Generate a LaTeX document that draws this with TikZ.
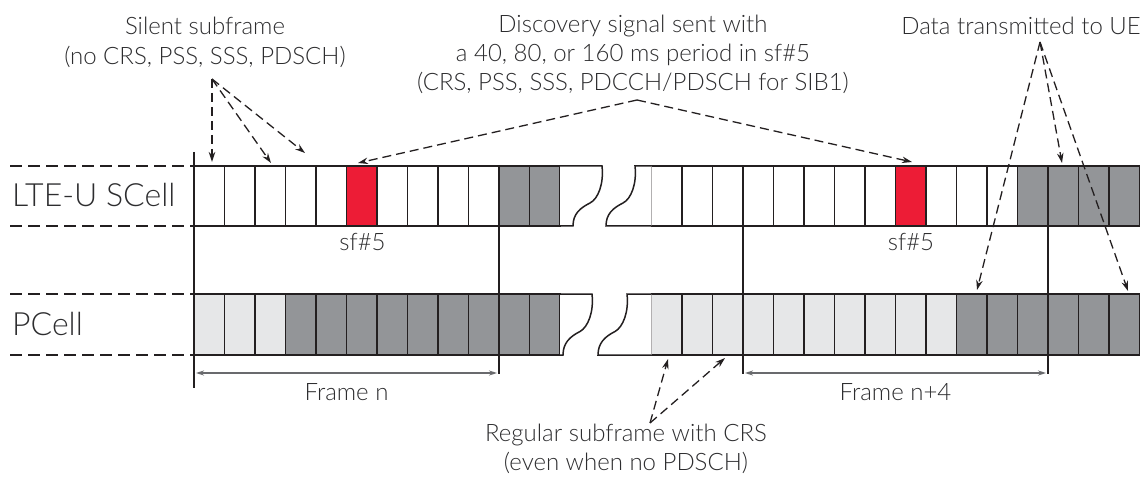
\documentclass[tikz,border=0pt]{standalone}
\usepackage{fontspec}
\setmainfont{Lato}[UprightFont={* Light}]
\usetikzlibrary{arrows.meta}

\definecolor{edge}{RGB}{35,31,32}
\definecolor{txt}{RGB}{45,45,47}
\definecolor{sigred}{RGB}{237,28,54}
\definecolor{busy}{RGB}{147,149,152}
\definecolor{idle}{RGB}{230,231,232}
\definecolor{spanline}{RGB}{105,106,109}

\begin{document}
\begin{tikzpicture}[x=1pt,y=-1pt,
  scellbox/.style={draw=edge, line width=1.5pt, minimum width=30.5pt, minimum height=60pt,
    inner sep=0pt, outer sep=0pt, anchor=north west},
  pcellbox/.style={scellbox, minimum height=61pt},
  edgeline/.style={draw=edge, line width=1.5pt},
  guide/.style={draw=edge, line width=1.3pt, dash pattern=on 12pt off 6pt},
  callout/.style={draw=edge, line width=1.3pt, dash pattern=on 9pt off 5pt,
    -{Stealth[length=10pt,width=6.5pt]}},
  span/.style={draw=spanline, line width=1.2pt,
    {Stealth[length=8pt,width=5pt]}-{Stealth[length=8pt,width=5pt]}},
  lab/.style={font=\fontsize{24}{29}\selectfont, text=txt, inner sep=0pt, anchor=base},
  rowlab/.style={font=\fontsize{32}{38}\selectfont, text=txt, inner sep=0pt, anchor=base west}]

\useasboundingbox (0,0) rectangle (1147,478);

% ---------- LTE-U SCell row ----------
\foreach \c [count=\i from 0] in {white,white,white,white,white,sigred,white,white,white,white,busy,busy}
  \node[scellbox, fill=\c] (sa\i) at ({194+30.5*\i},166) {};
\foreach \c [count=\j from 0] in {white,white,white,white,white,white,white,white,sigred,white,white,white,busy,busy,busy,busy}
  \node[scellbox, fill=\c] (sb\j) at ({651.5+30.5*\j},166) {};

% torn ends of the SCell row
\begin{scope}[shift={(602,166)}]
  \fill[white] (-42,0) -- (0,0) .. controls (2,18) and (-4,33) .. (-12,37)
    .. controls (-22,42) and (-29,48) .. (-29,60) -- (-42,60) -- cycle;
  \draw[edgeline] (-42,0) -- (0,0) .. controls (2,18) and (-4,33) .. (-12,37)
    .. controls (-22,42) and (-29,48) .. (-29,60) -- (-42,60);
\end{scope}
\begin{scope}[shift={(635,166)}]
  \fill[white] (16.5,0) -- (0,0) .. controls (2,18) and (-4,33) .. (-12,37)
    .. controls (-22,42) and (-29,48) .. (-29,60) -- (16.5,60) -- cycle;
  \draw[edgeline] (16.5,0) -- (0,0) .. controls (2,18) and (-4,33) .. (-12,37)
    .. controls (-22,42) and (-29,48) .. (-29,60) -- (16.5,60);
\end{scope}

% ---------- PCell row ----------
\foreach \c [count=\i from 0] in {idle,idle,idle,busy,busy,busy,busy,busy,busy,busy,busy,busy}
  \node[pcellbox, fill=\c] (pa\i) at ({194+30.5*\i},294) {};
\foreach \c [count=\j from 0] in {idle,idle,idle,idle,idle,idle,idle,idle,idle,idle,busy,busy,busy,busy,busy,busy}
  \node[pcellbox, fill=\c] (pb\j) at ({651.5+30.5*\j},294) {};

% torn ends of the PCell row
\begin{scope}[shift={(592,294)}]
  \fill[white] (-32,0) -- (0,0) .. controls (2,18) and (-4,33) .. (-12,37.5)
    .. controls (-22,42.5) and (-29,49) .. (-29,61) -- (-32,61) -- cycle;
  \draw[edgeline] (-32,0) -- (0,0) .. controls (2,18) and (-4,33) .. (-12,37.5)
    .. controls (-22,42.5) and (-29,49) .. (-29,61) -- (-32,61);
\end{scope}
\begin{scope}[shift={(627,294)}]
  \fill[white] (24.5,0) -- (0,0) .. controls (2,18) and (-4,33) .. (-12,37.5)
    .. controls (-22,42.5) and (-29,49) .. (-29,61) -- (24.5,61) -- cycle;
  \draw[edgeline] (24.5,0) -- (0,0) .. controls (2,18) and (-4,33) .. (-12,37.5)
    .. controls (-22,42.5) and (-29,49) .. (-29,61) -- (24.5,61);
\end{scope}

% ---------- row labels and guide lines ----------
\node[rowlab] (scell) at (12,207) {LTE-U SCell};
\node[rowlab] (pcell) at (12,335) {PCell};
\draw[guide] (10,166) -- (sa0.north west);
\draw[guide] (10,226) -- (sa0.south west);
\draw[guide] (10,294) -- (pa0.north west);
\draw[guide] (10,355) -- (pa0.south west);

% ---------- frame boundaries ----------
\draw[edgeline] (sa0.north west) ++(0,-14) -- (194,388);
\coordinate (fnEnd) at (499,374);
\coordinate (fmEnd) at (743,374);
\coordinate (fmEndB) at (1048,374);
\draw[edgeline] (sa10.south west) -- (fnEnd);
\draw[edgeline] (sb3.south west) -- (fmEnd);
\draw[edgeline] (sb13.south west) -- (fmEndB);

\coordinate (fnA) at (196,373);
\coordinate (fnB) at (497,373);
\coordinate (fmA) at (745,373);
\coordinate (fmB) at (1046,373);
\draw[span] (fnA) -- (fnB);
\draw[span] (fmA) -- (fmB);
\node[lab] (fn) at (346.5,400) {Frame n};
\node[lab] (fm) at (895.5,400) {Frame n+4};

% ---------- subframe markers ----------
\node[lab] (sf1) at (362.5,251) {sf\#5};
\node[lab] (sf2) at (911,251) {sf\#5};

% ---------- callouts ----------
\node[lab] (sil1) at (205,35) {Silent subframe};
\node[lab] (sil2) at (205,65) {(no CRS, PSS, SSS, PDSCH)};
\node[lab] (dis1) at (633,33) {Discovery signal sent with};
\node[lab] (dis2) at (633,62) {a 40, 80, or 160 ms period in sf\#5};
\node[lab] (dis3) at (633,91) {(CRS, PSS, SSS, PDCCH/PDSCH for SIB1)};
\node[lab] (data) at (1021,35) {Data transmitted to UE};
\node[lab] (reg1) at (626,441) {Regular subframe with CRS};
\node[lab] (reg2) at (626,470) {(even when no PDSCH)};

\coordinate (silA) at (212,79);
\coordinate (silT1) at (212,162);
\coordinate (silT2) at (271,163);
\coordinate (silT3) at (305,153);
\draw[callout] (silA) -- (silT1);
\draw[callout] (silA) -- (silT2);
\draw[callout] (silA) -- (silT3);

\coordinate (disA) at (637,100);
\coordinate (disT1) at (358,163);
\coordinate (disT2) at (912,162);
\draw[callout] (disA) -- (disT1);
\draw[callout] (disA) -- (disT2);

\coordinate (datA) at (1040,42);
\coordinate (datT1) at (1062,163);
\coordinate (datT2) at (977,290);
\coordinate (datT3) at (1128,291);
\draw[callout] (datA) -- (datT1);
\draw[callout] (datA) -- (datT2);
\draw[callout] (datA) -- (datT3);

\coordinate (regA) at (650,423);
\coordinate (regT1) at (668,359);
\coordinate (regT2) at (725,358);
\draw[callout] (regA) -- (regT1);
\draw[callout] (regA) -- (regT2);
\end{tikzpicture}
\end{document}
